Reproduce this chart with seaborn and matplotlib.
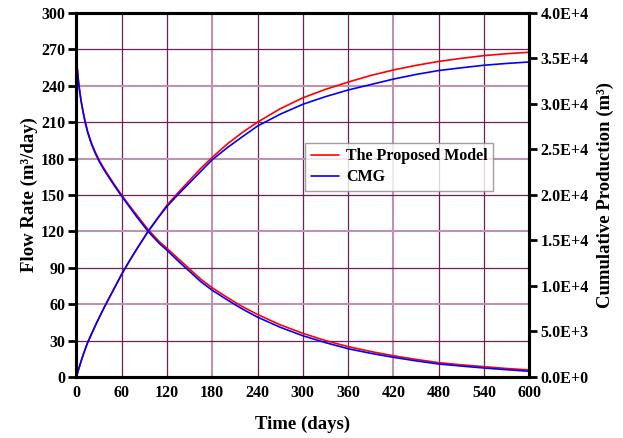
import matplotlib
matplotlib.use("Agg")
import matplotlib.pyplot as plt
from matplotlib.ticker import FuncFormatter
from matplotlib.lines import Line2D
import seaborn as sns
import pandas as pd

# Time axis (days)
time_days = [0, 1, 2, 3, 4, 6, 8, 10, 12, 15, 20, 25, 30, 35, 40, 50, 60, 70,
             80, 95, 110, 120, 135, 150, 165, 180, 200, 220, 240, 270, 300,
             330, 360, 390, 420, 450, 480, 510, 540, 570, 600]

# Flow rate (m3/day)
rate_model = [273, 256, 249, 243, 238, 229, 222, 215.5, 210, 202.5, 193, 185.5,
              179, 173.5, 168.5, 159, 150, 141.5, 133.5, 121.5, 111.5, 106,
              97.5, 89, 80.5, 73.5, 65.5, 58, 51.5, 43, 36, 30, 25, 21, 17.5,
              14.5, 11.8, 10, 8.5, 7, 5.8]
rate_cmg = [273, 256, 249, 242.5, 237.5, 228.5, 221.5, 215, 209, 201.5, 192,
            184.5, 178, 172.5, 167.5, 158, 149, 140.5, 132, 120, 110, 104.5,
            95.5, 87, 78.5, 71.5, 63.5, 56, 49.3, 41, 34, 28.3, 23.3, 19.5,
            16.2, 13.3, 10.7, 9, 7.4, 6, 4.7]

# Cumulative production (m3)
cum_model = [0, 280, 560, 835, 1110, 1645, 2160, 2650, 3110, 3780, 4700, 5610,
             6480, 7320, 8130, 9700, 11280, 12700, 14050, 16000, 17730, 18870,
             20270, 21600, 22930, 24130, 25600, 26870, 28000, 29470, 30670,
             31600, 32400, 33130, 33730, 34240, 34670, 35010, 35310, 35520,
             35680]
cum_cmg = [0, 280, 560, 835, 1110, 1645, 2160, 2650, 3110, 3780, 4700, 5610,
           6480, 7320, 8130, 9700, 11280, 12700, 14050, 15970, 17670, 18730,
           20070, 21330, 22600, 23870, 25200, 26400, 27570, 28870, 29960,
           30800, 31530, 32130, 32730, 33240, 33670, 33970, 34250, 34450,
           34610]

series_names = ["The Proposed Model", "CMG"]
series_colors = ["#ff0000", "#0000ff"]

x_ticks = list(range(0, 601, 60))
rate_ticks = list(range(0, 301, 30))
cum_ticks = list(range(0, 40001, 5000))

df = pd.DataFrame({
    "t": time_days * 2,
    "rate": rate_model + rate_cmg,
    "cum": cum_model + cum_cmg,
    "series": [series_names[0]] * len(time_days) + [series_names[1]] * len(time_days),
})

sns.set_theme(style="white")
plt.rcParams["font.family"] = ["Liberation Serif", "DejaVu Serif"]
plt.rcParams["font.weight"] = "bold"
plt.rcParams["axes.labelweight"] = "bold"
plt.rcParams["text.color"] = "black"
plt.rcParams["axes.labelcolor"] = "black"
plt.rcParams["xtick.color"] = "black"
plt.rcParams["ytick.color"] = "black"

fig = plt.figure(figsize=(6.23, 4.38), dpi=100)
ax = fig.add_axes([0.1225, 0.1393, 0.7271, 0.8312])
ax2 = ax.twinx()

palette = dict(zip(series_names, series_colors))
sns.lineplot(data=df, x="t", y="rate", hue="series", palette=palette,
             ax=ax, linewidth=1.2, legend=False, sort=False, estimator=None)
sns.lineplot(data=df, x="t", y="cum", hue="series", palette=palette,
             ax=ax2, linewidth=1.2, legend=False, sort=False, estimator=None)

ax.set_xlim(0, 600)
ax.set_ylim(0, 300)
ax2.set_ylim(0, 40000)
ax.set_xticks(x_ticks)
ax.set_yticks(rate_ticks)
ax2.set_yticks(cum_ticks)


def sci_label(v, pos):
    if v == 0:
        return "0.0E+0"
    mant, exp = f"{v:.1E}".split("E")
    return f"{mant}E+{int(exp)}"


ax2.yaxis.set_major_formatter(FuncFormatter(sci_label))

# Grid
grid_dark = "#6e2152"
grid_light = "#be92b0"
ax.grid(True, color=grid_dark, linewidth=0.9)
ax.set_axisbelow(True)
for val, line in zip(x_ticks, ax.get_xgridlines()):
    if val in (180, 420):
        line.set_color(grid_light)
        line.set_linewidth(1.5)
for val, line in zip(rate_ticks, ax.get_ygridlines()):
    if val in (60, 120, 180, 240):
        line.set_color(grid_light)
        line.set_linewidth(1.5)

for a in (ax, ax2):
    for sp in a.spines.values():
        sp.set_linewidth(2.2)
        sp.set_color("black")

ax.tick_params(axis="x", direction="in", length=4, width=2, labelsize=11.5,
               pad=6, colors="black")
ax.tick_params(axis="y", direction="out", length=6, width=2, labelsize=11.5,
               pad=2, colors="black")
ax2.tick_params(axis="y", direction="out", length=6, width=2, labelsize=11.5,
                pad=2, colors="black")
for lab in ax.get_xticklabels() + ax.get_yticklabels() + ax2.get_yticklabels():
    lab.set_fontweight("bold")

ax.set_xlabel("Time (days)", fontsize=13.5, fontweight="bold", labelpad=10,
              color="black")
ax.set_ylabel("Flow Rate (m³/day)", fontsize=13.5, fontweight="bold",
              labelpad=2, color="black")
ax2.set_ylabel("Cumulative Production (m³)", fontsize=13.5,
               fontweight="bold", labelpad=6, color="black")

handles = [Line2D([], [], color=c, linewidth=1.2) for c in series_colors]
leg = ax2.legend(handles, series_names, loc="upper left",
                 bbox_to_anchor=(0.505, 0.643), borderaxespad=0,
                 fancybox=False, frameon=True, edgecolor="#888888",
                 prop={"family": "Liberation Serif", "weight": "bold", "size": 11.5},
                 handlelength=1.8, handletextpad=0.4, borderpad=0.35,
                 labelspacing=0.3)
leg.get_frame().set_linewidth(1.0)
for txt in leg.get_texts():
    txt.set_color("black")

fig.savefig("out.png", dpi=100)
